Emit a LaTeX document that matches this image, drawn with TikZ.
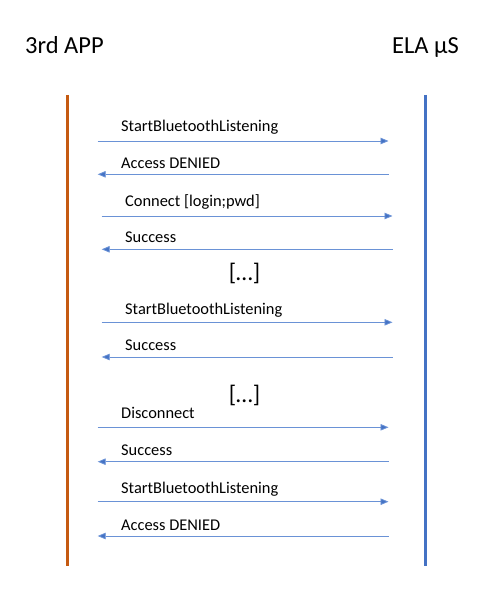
\documentclass[tikz,border=0pt]{standalone}
\usepackage{fontspec}
\setmainfont{Carlito}
\usetikzlibrary{arrows.meta}
\definecolor{appcol}{HTML}{C55A11}
\definecolor{elacol}{HTML}{4472C4}
\definecolor{msgcol}{HTML}{6A92D6}
\tikzset{
  title/.style={anchor=base west, inner sep=0pt, font=\fontsize{24.5}{28}\selectfont},
  msglabel/.style={anchor=base west, inner sep=0pt, font=\fontsize{16.4}{19}\selectfont},
  dots/.style={anchor=base, inner sep=0pt, font=\fontsize{24}{28}\selectfont},
  lifeline/.style={line width=3pt},
  msg/.style={draw=msgcol, line width=0.8pt, -{Triangle[length=8pt,width=6.5pt,fill=elacol]}}
}
\begin{document}
\begin{tikzpicture}[x=1pt,y=-1pt]
\useasboundingbox (0,0) rectangle (486,604);
\node[title] (app) at (25,54) {3rd APP};
\node[title] (ela) at (392,54) {ELA µS};
\coordinate (appTop) at (67,95);
\coordinate (appBot) at (67,566);
\coordinate (elaTop) at (425.5,95);
\coordinate (elaBot) at (425.5,566);
\draw[lifeline, appcol] (appTop) -- (appBot);
\draw[lifeline, elacol] (elaTop) -- (elaBot);
% message 1
\node[msglabel] (l1) at (121,131.7) {StartBluetoothListening};
\coordinate (a1) at (97.7,141); \coordinate (b1) at (388.5,141);
\draw[msg] (a1) -- (b1);
% message 2
\node[msglabel] (l2) at (121,168) {Access DENIED};
\coordinate (a2) at (97.7,174.3); \coordinate (b2) at (388.5,174.3);
\draw[msg] (b2) -- (a2);
% message 3
\node[msglabel] (l3) at (125,206.7) {Connect [login;pwd]};
\coordinate (a3) at (101.7,216); \coordinate (b3) at (392.5,216);
\draw[msg] (a3) -- (b3);
% message 4
\node[msglabel] (l4) at (125,242.7) {Success};
\coordinate (a4) at (101.7,249.3); \coordinate (b4) at (392.5,249.3);
\draw[msg] (b4) -- (a4);
\node[dots] (d1) at (244.5,280) {[…]};
% message 5
\node[msglabel] (l5) at (125,314) {StartBluetoothListening};
\coordinate (a5) at (101.7,322.3); \coordinate (b5) at (392.5,322.3);
\draw[msg] (a5) -- (b5);
% message 6
\node[msglabel] (l6) at (125,350.7) {Success};
\coordinate (a6) at (101.7,357); \coordinate (b6) at (392.5,357);
\draw[msg] (b6) -- (a6);
\node[dots] (d2) at (244.5,402) {[…]};
% message 7
\node[msglabel] (l7) at (121,418) {Disconnect};
\coordinate (a7) at (97.7,427.3); \coordinate (b7) at (388.5,427.3);
\draw[msg] (a7) -- (b7);
% message 8
\node[msglabel] (l8) at (121,455) {Success};
\coordinate (a8) at (97.7,461.7); \coordinate (b8) at (388.5,461.7);
\draw[msg] (b8) -- (a8);
% message 9
\node[msglabel] (l9) at (121,493) {StartBluetoothListening};
\coordinate (a9) at (97.7,501.7); \coordinate (b9) at (388.5,501.7);
\draw[msg] (a9) -- (b9);
% message 10
\node[msglabel] (l10) at (121,530) {Access DENIED};
\coordinate (a10) at (97.7,536); \coordinate (b10) at (388.5,536);
\draw[msg] (b10) -- (a10);
\end{tikzpicture}
\end{document}
